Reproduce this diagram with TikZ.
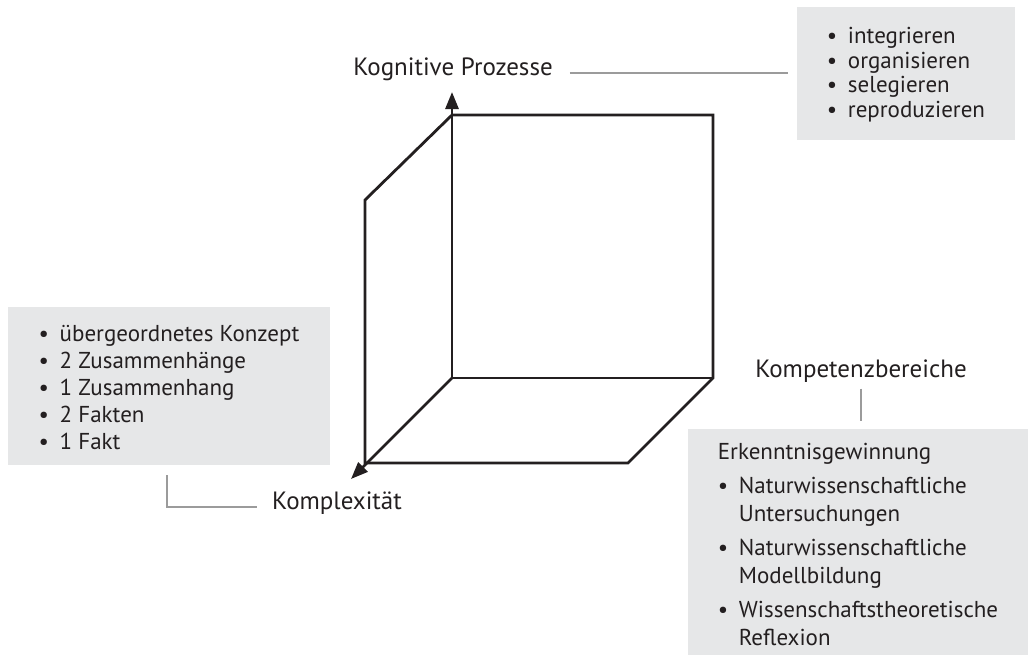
\documentclass[tikz,border=0pt]{standalone}
\usepackage{fontspec}
\setmainfont{PT Sans}
\usepackage{xcolor}
\usetikzlibrary{arrows.meta}
\definecolor{inkblack}{RGB}{35,31,32}
\definecolor{boxgray}{RGB}{230,231,232}
\definecolor{linegray}{RGB}{155,155,155}
\tikzstyle{cubeline} = [draw = inkblack, line width = 2.8pt]
\tikzstyle{cubeaxis} = [cubeline, -{Triangle[length = 17pt, width = 13pt]}]
\tikzstyle{guide} = [draw = linegray, line width = 1.2pt]
\tikzstyle{axislabel} = [text = inkblack, anchor = mid, inner sep = 3pt, font = \fontsize{25}{28}\selectfont]
\tikzstyle{listblock} = [rectangle, fill = boxgray, text = inkblack, inner sep = 0pt, align = left]
\newcommand{\itm}{\makebox[21pt][l]{\textbullet}}
\newcommand{\lowered}[2]{\raisebox{-#1}[\height][\depth]{#2}}

\begin{document}
\begin{tikzpicture}[x = 1pt, y = -1pt]
\tikzstyle{every node}=[font=\fontsize{23}{27}\selectfont];
\useasboundingbox (0,0) rectangle (1028,654);
% corners of the open box
\coordinate (backtl) at (452,115);
\coordinate (backtr) at (713,115);
\coordinate (backbr) at (713,378);
\coordinate (backbl) at (452,378);
\coordinate (fronttl) at (365,200);
\coordinate (frontbl) at (365,463);
\coordinate (frontbr) at (628,463);
\coordinate (proctip) at (452,92);
\coordinate (cplxtip) at (351,479);
\draw [cubeline] (fronttl) -- (backtl) -- (backtr) -- (backbr) -- (frontbr) -- (frontbl) -- cycle;
\draw [cubeline] (backbl) -- (backbr);
\draw [cubeaxis] (backbl) -- (proctip);
\draw [cubeaxis] (backbl) -- (cplxtip);
% lists
\node [listblock, minimum width = 218pt, minimum height = 133pt] (procbox) at (906,73.5)
  {\fontsize{23}{24.5}\selectfont\lowered{2pt}{\begin{tabular}{@{}l@{}}\itm integrieren\\ \itm organisieren\\ \itm selegieren\\ \itm reproduzieren\end{tabular}}};
\node [listblock, minimum width = 322pt, minimum height = 158pt] (cplxbox) at (169,386)
  {\fontsize{23}{27}\selectfont\lowered{4pt}{\begin{tabular}{@{}l@{}}\itm übergeordnetes Konzept\\ \itm 2 Zusammenhänge\\ \itm 1 Zusammenhang\\ \itm 2 Fakten\\ \itm 1 Fakt\end{tabular}}};
\node [listblock, minimum width = 340pt, minimum height = 227pt] (compbox) at (858,542)
  {\fontsize{23}{28}\selectfont\lowered{5pt}{\begin{tabular}{@{}l@{}}Erkenntnisgewinnung\\[6pt]
  \itm Naturwissenschaftliche\\ \hphantom{\itm}Untersuchungen\\[6pt]
  \itm Naturwissenschaftliche\\ \hphantom{\itm}Modellbildung\\[6pt]
  \itm Wissenschaftstheoretische\\ \hphantom{\itm}Reflexion\end{tabular}}};
% axis labels
\node [axislabel] (procaxis) at (453,73) {Kognitive Prozesse};
\node [axislabel] (cplxaxis) at (337,507) {Komplexität};
\node [axislabel] (compaxis) at (861,375) {Kompetenzbereiche};
\coordinate (cplxfoot) at (167,465);
\draw [guide, shorten <= 14pt, shorten >= 9pt] (procaxis.mid east) -- (procaxis.mid east -| procbox.west);
\draw [guide, shorten <= 12pt, shorten >= 10pt] (cplxaxis.mid west) -| (cplxfoot);
\draw [guide, shorten <= 3pt, shorten >= 7pt] (compaxis.south) -- (compaxis.south |- compbox.north);
\end{tikzpicture}
\end{document}
